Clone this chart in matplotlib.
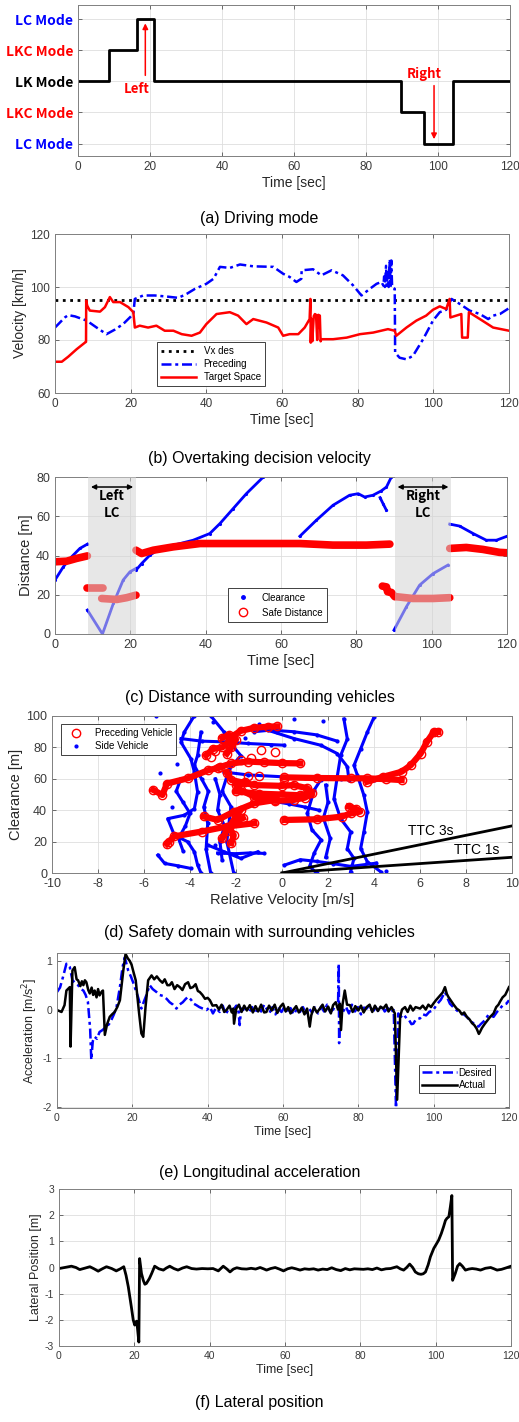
import matplotlib
matplotlib.use('Agg')
import matplotlib.pyplot as plt
from matplotlib.lines import Line2D

plt.rcParams['font.family'] = ['Liberation Sans', 'DejaVu Sans']
plt.rcParams['axes.unicode_minus'] = False

# ---------------- (a) driving mode ----------------
mode_t = [0, 8.6, 16.3, 21.1, 89.6, 96.1, 104.3, 120]
mode_v = [0, 1, 2, 0, -1, -2, 0, 0]
mode_ticks = [2, 1, 0, -1, -2]
mode_labels = ['LC Mode', 'LKC Mode', 'LK Mode', 'LKC Mode', 'LC Mode']
mode_colors = ['#0000ff', '#ff0000', '#000000', '#ff0000', '#0000ff']

# ---------------- (b) velocity ----------------
vx_des = 95
prec_t = [0, 2.6, 3.5, 5.3, 8.4, 11, 13.6, 15.8, 18, 20.7, 21.1, 23.3, 26.4, 29.5, 32.6,
          34.8, 37, 40, 41.9, 43.6, 46.2, 48.9, 52.4, 57.7, 60.3, 62, 63.8, 65.1, 65.2,
          68.2, 70.4, 73.1, 76.1, 78.8, 81, 83.2, 85, 86.3, 86.8, 87.0, 87.2, 87.5, 87.7,
          88.0, 88.2, 88.5, 88.7, 88.9, 89.1, 89.8, 89.9, 91.1, 92.9, 94.6, 97.3, 99.9,
          101.7, 103.4, 104.8, 107, 109.6, 112.3, 114.5, 115.8, 117.6, 120]
prec_v = [84.7, 88.5, 89.4, 88.9, 87.3, 84.7, 82.2, 83.9, 86, 89.8, 95.5, 96.8, 96.8, 96.4, 95.9,
          97.4, 99.3, 101.2, 103.1, 107.6, 107.2, 108.5, 107.8, 107.6, 105, 103.8, 101.9, 103.1, 106.3,
          106.7, 104.4, 106.3, 104.4, 100.6, 96.8, 99.3, 101.2, 101.9, 100.5, 104, 100, 108, 100.5,
          106, 100, 110.5, 100, 110, 100, 99.3, 75.2, 73.3, 72.7, 74, 80.3, 87.3,
          90.5, 91.4, 95.5, 93.6, 91.1, 89.8, 87.9, 89.2, 89.8, 92]
tgt_t = [0, 1.8, 3.5, 5.7, 7.9, 8.2, 8.25, 8.5, 9.2, 11.9, 13.2, 14.5, 15.4, 17.2, 19.4, 20.7,
         21.1, 22.4, 24.6, 26.8, 29, 31.3, 33.5, 36.1, 38.3, 40, 42.7, 46.2, 48.4, 50.6, 52.4,
         55.9, 59, 60.3, 62, 64.3, 66, 67.3, 67.5, 67.6, 67.8, 68.0, 68.4, 68.7, 69.0, 69.3,
         69.6, 70.0, 70.2, 70.4, 73.5, 77.1, 80.6, 84.1, 88, 89.8, 90.2, 92.9, 95.5, 98.1,
         99.9, 101.7, 103.4, 104.3, 104.5, 107.4, 107.6, 109.1, 109.4, 112.3, 115.8, 120]
tgt_v = [71.8, 71.8, 73.7, 76.5, 79, 79.3, 94.9, 93, 91.1, 90.7, 92.4, 96.2, 94.3, 94.3, 92.4, 90.5,
         84.7, 85.4, 84.7, 85.4, 83.5, 83.5, 82.2, 81.6, 82.8, 86, 89.8, 90.5, 89.2, 86, 87.9,
         86.6, 84.7, 81.6, 82.2, 82.2, 84.7, 87.9, 95.5, 79, 88, 79.5, 89, 89.8, 89.5, 80,
         89.5, 89.2, 79.5, 80.3, 80.3, 80.9, 82.2, 82.8, 84.1, 83.5, 81.6, 84.7, 87.3, 89.2,
         91.4, 92.7, 91.7, 95.5, 88.5, 89.8, 80.9, 80.9, 90.5, 87.9, 84.7, 83.5]

# ---------------- (c) distance ----------------
lc_windows = [(8.8, 21.5), (90.2, 105.2)]
lc_names = ['Left\nLC', 'Right\nLC']
clr_segments = [
    ([0, 2.2, 4.4, 6.6, 8.6], [27.5, 34.2, 39.3, 43.6, 45.8]),
    ([8.6, 12.6, 15.5, 18.1, 19.9, 21.5], [12.2, 0, 15.6, 27.5, 31.7, 33.4]),
    ([21.5, 23, 25.2, 27.9, 33.2, 36.7, 41.1, 43.8, 47.3, 50.8, 55.3],
     [32.5, 35.9, 40.2, 43.6, 46.1, 47.8, 51.2, 56.3, 63.9, 71.5, 80]),
    ([65, 69.4, 73.8, 78.2, 80.5, 82.2, 84.4, 86.6, 88, 89.3],
     [49.8, 58, 65.6, 70.7, 71.5, 69.8, 70.7, 72.9, 74.9, 80]),
    ([86.3, 87.2, 88.0], [69.5, 66, 63]),
    ([90, 93.3, 96.8, 100.4, 104.3], [2, 13.9, 24.9, 30.8, 35.1]),
    ([104.8, 107.4, 111, 114.5, 117.2, 120], [56, 55, 51.2, 47.8, 47.8, 49.8]),
]
safe_segments = [
    ([0, 3.1, 5.7, 8.6], [36.8, 37.1, 38.5, 39.8]),
    ([8.6, 12.8], [23.2, 23.2]),
    ([12.4, 16.4, 19, 21.5], [18.1, 17.6, 18.5, 19.8]),
    ([21.5, 23, 26.1, 31.4, 38.5, 47.3, 65, 73.8, 82.7, 88.9],
     [42.7, 41, 42.7, 44.4, 46.1, 46.1, 46.1, 45.3, 45.3, 45.8]),
    ([86.9, 88, 88.3, 89.3, 90.2], [24.4, 24, 21.5, 21.2, 19]),
    ([90.6, 95, 100.4, 104.8], [19, 18.1, 18.1, 18.5]),
    ([104.8, 109.2, 113.6, 118, 120], [43.6, 44.1, 43.1, 41.6, 41.4]),
]

# ---------------- (d) safety domain ----------------
ttc_values = [3, 1]
ttc_vrel = [0, 10]
prec_traj = [
    ([-3.3, -3.0, -2.6, -2.3, -2.2, -1.8, -1.2, -0.6, -0.2], [75, 79, 80, 83, 86.7, 90.5, 92.5, 93.2, 93.4]),
    ([-2.4, -2.2, -2.0, -2.3, -2.6], [76, 80, 85, 88, 86]),
    ([-2.8, -2.2, -1.5, -0.8, 0.0, 0.8], [67, 69.8, 71, 70.5, 70, 69.8]),
    ([-2.4, -2.2, -1.2, 0.0, 0.5, 1.1, 1.3, 1.0, 0.5, -0.3, -1.2, -1.8, -2.0, -1.6],
     [64, 59.2, 56, 55.5, 56, 54, 50.7, 48, 46.5, 46, 48.6, 52.9, 56, 58]),
    ([-2.0, -1.0, 0.0, 0.8, 1.2], [52, 50.5, 50, 49.5, 51]),
    ([-3.4, -2.8, -2.1, -1.2, -0.3], [36, 33.8, 39, 44.4, 46.5]),
    ([-2.2, -2.1, -2.3, -2.0, -1.7], [19, 24, 29.6, 33, 35]),
    ([-2.6, -2.4, -2.0, -1.8], [22, 27, 36, 40]),
    ([-5.6, -5.2, -5.0, -4.1, -3.2, -2.7], [52.9, 49.7, 57, 60.3, 65.5, 67.2]),
    ([-5.0, -4.9, -4.7, -3.5, -2.4, -1.2], [18.5, 20, 23.3, 26.4, 29.6, 31.7]),
    ([0.1, 1.5, 3.0, 3.7, 4.5, 5.2], [60.9, 60.5, 60.3, 60.3, 59.8, 59.2]),
    ([3.7, 4.4, 5.2, 5.6, 6.03, 6.3, 6.6, 6.8], [58.1, 61.3, 64.5, 68.7, 76.1, 83.5, 89.9, 89.9]),
    ([0.1, 1.5, 2.6, 3.0, 3.4, 3.2, 2.9], [33.8, 34.2, 35.9, 38, 39.1, 41, 42.3]),
]
prec_loose_x = [-0.9, -0.3, -1.35, -3.1, -1.0, 0.1, -2.9, -1.8, -1.5]
prec_loose_y = [78.6, 77, 73, 74, 62, 60, 78, 72, 62]
side_traj = [
    ([-3.81, -4.25, -4.39, -3.96, -3.81, -3.67, -3.81, -4.25, -4.97, -4.68, -4.1, -3.81, -3.67, -3.52],
     [100.2, 89.7, 83.3, 72.7, 64.3, 51.6, 41, 36.8, 34.6, 24.1, 19.9, 13.5, 5.1, 0]),
    ([-5.4, -5.1, -4.53, -3.96], [11.4, 6.1, 4.6, 2.9]),
    ([-3.52, -3.67, -3.81, -3.5, -3.2, -3.4, -3.23, -3.3, -3.1],
     [89.7, 74.9, 68.5, 60, 52, 42, 31.7, 15, 0]),
    ([-3.09, -2.51, -2.2, -1.79, -2.3, -2.6, -2.22, -2.4, -2.1],
     [100, 89.6, 82, 74.8, 66, 52, 42.3, 20, 0]),
    ([-4.4, -4.6, -4.3, -4.0, -4.2, -4.5, -4.3], [60, 52, 45, 38, 30, 22, 14]),
    ([-2.9, -2.7, -2.8, -2.5, -2.7, -2.6], [60, 50, 40, 30, 20, 8]),
    ([-4.39, -3.5, -2.5, -1.5, -0.5, 0.1], [85.6, 84, 83.5, 82.5, 81.8, 81.4]),
    ([-0.63, 0.53, 1.68, 2.4, 2.84, 2.91], [91, 85.6, 81.4, 76.1, 67.7, 59.2]),
    ([-2.51, -1.5, 0.0, 1.0, 2.55, 4.0], [64.3, 62.5, 61.3, 60.8, 60, 59.2]),
    ([-3.23, -2.51, -1.79, -1.06], [17.8, 13.5, 9.3, 13.5]),
    ([-2.8, -2.0, -1.4, -0.8], [12.7, 12.3, 12.8, 12.5]),
    ([4.0, 3.71, 3.42, 3.13, 3.28, 3.56, 3.71, 3.56, 3.42, 3.71, 4.29],
     [99.2, 89.7, 79.1, 68.5, 62.2, 49.5, 38.9, 26.2, 15.6, 7.2, 0.8]),
    ([2.69, 2.84, 2.55, 2.41, 2.26, 2.55, 2.98, 2.84, 3.13, 2.98],
     [98.1, 85.4, 74.9, 62.1, 47.3, 34.6, 26.2, 15.6, 9.3, 0.8]),
    ([1.68, 1.4, 1.1, 1.3, 1.7, 1.4, 1.2, 1.5], [59.2, 52.9, 38, 27.5, 21.1, 12.7, 4.2, 0]),
    ([1.9, 2.0, 1.8, 2.1, 1.9], [56, 45, 35, 22, 10]),
    ([0.1, 0.8, 1.5, 2.2, 3.0, 4.1], [5, 8.5, 7.4, 6, 4.2, 6.3]),
    ([-0.5, 0.3, 1.0, 1.6], [46, 44, 42, 40]),
    ([-1.2, -0.5, 0.5, 1.5, 2.4], [90, 91, 90, 88, 84]),
]
side_loose_x = [-5.5, -4.56, -1.0, 0.5, -2.9, 1.8, -0.2, 4.5, -5.3, -4.8, -3.0, -1.6]
side_loose_y = [100, 69.5, 95, 98, 18, 97, 90, 1, 64, 42, 96, 86]

# ---------------- (e) longitudinal acceleration ----------------
act_t = [0, 1.2, 2, 2.5, 3.4, 3.6, 4.1, 4.7, 5.2, 5.6, 6.2, 6.6, 7, 7.4, 7.8, 8.3, 8.7, 9.2, 9.6,
         10, 10.5, 10.9, 11.3, 11.8, 12.2, 12.7, 13.3, 14, 14.6, 15.3, 16, 16.7, 17.6, 18.2,
         18.8, 19.3, 19.8, 20.2, 20.9, 21.8, 22.4, 22.9, 23.5, 24.2, 25.1, 25.8, 26.5, 27.3,
         28, 28.6, 29.3, 29.9, 30.5, 31.2, 31.9, 32.6, 33.3, 34, 34.8, 35.4, 36.1, 36.8, 37.4,
         37.9, 38.6, 39.3, 40, 40.6, 41.3, 42.3, 43, 43.7, 44.4, 45, 45.8, 46.4, 46.8, 47,
         47.6, 48.3, 49, 49.7, 50.4, 51.2, 52, 52.7, 53.4, 54.2, 55, 55.6, 56.3, 57, 57.8,
         58.5, 59.3, 60, 60.7, 61.4, 62, 62.7, 63.5, 64.2, 65, 65.7, 66.4, 67.1, 67.5, 68.2,
         69, 69.8, 70.5, 71.2, 72, 72.7, 73.3, 74, 74.6, 75.1, 75.4, 75.8, 76.4, 77, 77.8,
         78.5, 79.2, 80, 80.7, 81.4, 82.2, 83, 83.7, 84.4, 85.2, 85.9, 86.6, 87.4, 88, 88.8,
         89.7, 90.3, 91.1, 91.6, 92.4, 93.1, 93.8, 94.5, 95.2, 96.4, 97.1, 97.9, 98.6, 99.3,
         99.9, 100.7, 101.7, 102.4, 103, 103.5, 103.9, 104.6, 105.3, 106.1, 106.8, 107.5,
         108.1, 108.8, 109.5, 110.2, 110.8, 111.4, 112, 112.3, 112.8, 113.6, 114.3, 115,
         115.9, 116.6, 117.2, 117.6, 118.3, 119, 119.5, 120]
act_a = [-0.01, -0.05, 0.09, 0.39, 0.46, -0.76, 0.8, 0.87, 0.62, 0.6, 0.48, 0.58, 0.5, 0.6, 0.56,
         0.4, 0.33, 0.45, 0.3, 0.39, 0.25, 0.42, 0.29, 0.36, 0.39, -0.52, -0.3, -0.15, -0.1,
         -0.05, 0.05, 0.19, 0.8, 1.14, 1.05, 1.0, 0.92, 0.8, 0.6, -0.08, -0.49, -0.56, 0.05,
         0.6, 0.7, 0.62, 0.68, 0.6, 0.55, 0.62, 0.5, 0.5, 0.56, 0.42, 0.5, 0.46, 0.4, 0.52,
         0.56, 0.44, 0.46, 0.52, 0.38, 0.36, 0.3, 0.22, 0.24, 0.19, 0.08, 0.09, 0.0, 0.1,
         -0.05, -0.01, 0.08, -0.06, 0.02, -0.29, 0.02, 0.1, -0.05, 0.08, -0.02, 0.09, -0.06,
         0.07, -0.04, 0.1, -0.06, -0.05, 0.08, -0.02, 0.1, -0.07, 0.06, 0.12, -0.04, 0.05,
         -0.08, -0.01, 0.07, -0.06, 0.04, -0.1, 0.02, -0.35, -0.12, 0.05, -0.06, 0.02, 0.1,
         -0.04, 0.06, -0.08, 0.09, 0.15, 0.0, 0.12, -0.42, 0.1, 0.39, 0.1, 0.09, -0.05, 0.07,
         -0.02, 0.08, -0.06, 0.05, 0.1, -0.05, 0.08, -0.03, 0.06, 0.02, 0.1, -0.04, 0.05,
         -0.08, -1.85, -0.15, 0.0, 0.05, -0.05, 0.08, -0.02, 0.05, 0.02, 0.08, 0.0, 0.1, 0.05,
         0.12, 0.2, 0.29, 0.35, 0.46, 0.32, 0.26, 0.18, 0.1, 0.02, -0.02, -0.1, -0.06, -0.15,
         -0.2, -0.28, -0.32, -0.39, -0.5, -0.46, -0.38, -0.29, -0.22, -0.15, -0.08, 0.05, 0.1,
         0.16, 0.25, 0.3, 0.38, 0.46]
des_t = [0, 0.8, 1.6, 2.5, 3.4, 4.1, 4.8, 5.6, 6.3, 7, 7.6, 8.2, 8.8, 9.1, 9.5, 10, 10.6, 11.3,
         12.1, 13.1, 13.8, 14.4, 15.1, 15.8, 16.7, 17.4, 18, 18.9, 19.6, 20.2, 20.9, 21.5,
         22.4, 23, 23.7, 24.6, 25.4, 26.4, 27.2, 28.1, 29.1, 29.9, 30.8, 31.7, 32.5, 33.4,
         34.2, 34.8, 35.6, 36.3, 37, 37.8, 38.7, 39.7, 40.6, 41.4, 42.2, 43.2, 44, 44.8, 45.6,
         46.8, 47.6, 48.2, 48.5, 48.9, 49.4, 50.2, 51, 51.8, 52.6, 53.4, 54.2, 55, 55.6, 56.4,
         57.2, 58, 58.8, 59.6, 60.4, 61.2, 62, 62.8, 63.6, 64.5, 65.3, 66.1, 66.9, 67.7, 68.5,
         69.3, 70.1, 70.9, 71.7, 72.5, 73.3, 74, 74.6, 74.8, 74.9, 75.1, 75.9, 76.7, 77.5,
         78.3, 79.1, 79.9, 80.7, 81.5, 82.2, 83, 83.8, 84.6, 85.4, 86.2, 87, 87.8, 88.6, 89.4,
         90, 90.6, 91.3, 92, 92.8, 93.5, 94.1, 94.6, 95.3, 96.4, 97.2, 98, 98.8, 99.9, 100.8,
         101.9, 103, 103.6, 104.3, 105.2, 106.2, 107.2, 108, 108.8, 109.6, 110.5, 111.2,
         111.9, 112.5, 113.6, 114.6, 115.9, 116.8, 117.6, 118.5, 119.3, 120]
des_a = [0.36, 0.45, 0.67, 0.94, 0.87, 0.6, 0.55, 0.5, 0.42, 0.39, 0.3, 0.16, -0.4, -1.03, -0.65,
         -0.56, -0.6, -0.46, -0.42, -0.35, -0.3, -0.22, -0.1, 0.05, 0.46, 0.87, 1.07, 0.8, 0.68,
         0.56, 0.4, 0.26, 0.02, 0.15, 0.29, 0.5, 0.42, 0.36, 0.3, 0.28, 0.22, 0.15, 0.1, 0.02,
         0.1, 0.15, 0.22, 0.26, 0.2, 0.12, 0.09, 0.05, 0.02, -0.01, 0.05, -0.08, 0.03, -0.05,
         0.08, -0.1, 0.02, -0.01, 0.08, -0.05, -0.32, 0.02, -0.01, 0.08, -0.06, 0.05, -0.08,
         0.04, -0.04, 0.1, 0.02, -0.07, 0.05, -0.1, 0.02, -0.05, 0.06, -0.08, 0.03, -0.1, 0.0,
         -0.05, 0.05, -0.09, 0.02, -0.06, 0.04, -0.08, 0.06, -0.04, 0.1, -0.05, 0, 0.08, 0.05,
         0.94, -0.69, 0.02, -0.05, 0.06, -0.08, 0.1, -0.04, 0.05, -0.1, 0.04, 0.02, 0.1, -0.06,
         0.05, -0.05, 0.08, -0.04, 0.03, -0.05, -0.01, -2.02, -0.08, -0.15, -0.1, -0.18, -0.22,
         -0.3, -0.29, -0.2, -0.18, -0.1, -0.12, -0.05, -0.01, 0.1, 0.2, 0.36, 0.25, 0.12, 0.05,
         -0.02, -0.08, -0.1, -0.15, -0.22, -0.28, -0.32, -0.35, -0.3, -0.22, -0.1, -0.15, -0.05,
         0.02, 0.1, 0.12, 0.19]

# ---------------- (f) lateral position ----------------
lat_t = [0, 1.5, 3.3, 4.5, 5.5, 7, 8.2, 9.3, 10.4, 11.5, 12.6, 14, 15.2, 16.3, 17.2, 17.8, 18.4,
         19.2, 19.7, 20.1, 20.4, 20.6, 20.8, 21.2, 21.4, 21.9, 22.4, 22.8, 23.2, 24, 24.6,
         25.4, 26.5, 27.7, 28.5, 29.4, 30.5, 31.6, 32.8, 33.9, 35.2, 36.5, 38, 39.5, 40.9,
         42.3, 43.6, 44.5, 45.4, 46.3, 47.2, 48.5, 49.8, 51, 52.2, 53.4, 54.3, 55.1, 56.2,
         57.4, 58.5, 59.6, 60.7, 61.8, 62.9, 64, 65.2, 66.4, 67.6, 68.8, 70, 71.2, 72.4, 73.6,
         74.8, 76, 77.2, 78.4, 79.6, 80.8, 82, 83.2, 84.4, 85.6, 86.8, 88, 89.7, 90.6, 91.5,
         92.3, 93.1, 93.9, 94.6, 95.4, 96.1, 96.7, 97.3, 98, 98.6, 99.5, 100.2, 100.8, 101.5,
         102.1, 102.6, 103, 103.5, 103.9, 104.3, 104.5, 105.2, 105.8, 106.4, 107.1, 107.9,
         108.8, 109.7, 110.8, 111.9, 113.2, 114.6, 115.5, 116.3, 117.5, 118.8, 120]
lat_y = [-0.04, 0.0, 0.05, 0.0, -0.08, -0.02, 0.03, -0.05, -0.14, -0.05, 0.03, -0.04, -0.13, -0.05,
         0.03, -0.3, -0.74, -1.5, -2.0, -2.2, -2.08, -2.05, -2.27, -2.85, 0.34, -0.23, -0.5,
         -0.64, -0.61, -0.42, -0.23, 0.05, -0.05, -0.1, -0.02, 0.05, -0.04, -0.1, -0.02, 0.03,
         -0.04, -0.06, -0.04, -0.05, -0.04, -0.13, 0.05, -0.05, -0.17, -0.06, -0.01, -0.05,
         -0.06, -0.03, -0.06, 0.0, -0.05, -0.1, -0.04, 0.0, -0.06, -0.13, -0.05, -0.01, -0.05,
         -0.1, -0.05, -0.07, -0.05, -0.1, -0.06, -0.08, -0.01, -0.08, -0.12, -0.04, -0.09,
         -0.05, -0.06, -0.07, -0.05, -0.08, -0.02, -0.09, -0.05, -0.04, 0.03, -0.05, -0.1, 0.0,
         0.13, 0.0, -0.17, -0.24, -0.26, -0.24, -0.17, 0.1, 0.41, 0.73, 0.9, 1.05, 1.3, 1.56,
         1.8, 1.88, 1.94, 2.32, 2.75, -0.49, -0.23, 0.05, 0.15, 0.05, -0.1, -0.06, -0.04, -0.06,
         -0.1, -0.03, 0.0, -0.05, -0.1, -0.07, -0.01, 0.05]

captions = ['(a) Driving mode', '(b) Overtaking decision velocity',
            '(c) Distance with surrounding vehicles', '(d) Safety domain with surrounding vehicles',
            '(e) Longitudinal acceleration', '(f) Lateral position']
caption_y = [218, 459, 697, 932, 1173, 1402]

W, H = 519, 1422
fig = plt.figure(figsize=(W / 100, H / 100), dpi=100)


def px_axes(left, top, right, bottom):
    return fig.add_axes([left / W, 1 - bottom / H, (right - left) / W, (bottom - top) / H])


def matlab_style(ax, tick_fs):
    ax.grid(True, color='#dedede', lw=0.6)
    ax.set_axisbelow(True)
    ax.tick_params(direction='in', top=True, right=True, length=3, width=0.6,
                   color='#555555', labelsize=tick_fs, labelcolor='#3a3a3a')
    for s in ax.spines.values():
        s.set_color('#808080')
        s.set_linewidth(0.7)


lab_kw = dict(color='#262626')
cjk = ['Noto Sans CJK KR', 'DejaVu Sans']
dashdot = (4, 1.5, 1.2, 1.5)

# (a)
ax = px_axes(78, 5, 510, 156)
ax.step(mode_t, mode_v, where='post', color='black', lw=2)
ax.set_xlim(0, 120)
ax.set_ylim(-2.4, 2.45)
ax.set_xticks(range(0, 121, 20))
ax.set_yticks(mode_ticks)
ax.set_yticklabels(mode_labels)
matlab_style(ax, 8.5)
for lbl, c in zip(ax.get_yticklabels(), mode_colors):
    lbl.set_color(c)
    lbl.set_fontweight('bold')
    lbl.set_fontsize(10)
    lbl.set_family(cjk)
ax.set_xlabel('Time [sec]', fontsize=10, labelpad=2, **lab_kw)
ax.annotate('', xy=(18.7, 1.95), xytext=(18.7, 0.1),
            arrowprops=dict(arrowstyle='-|>', color='red', lw=1.1, mutation_scale=8))
ax.text(16.4, -0.25, 'Left', color='red', fontsize=9.5, fontweight='bold',
        ha='center', va='center', family=cjk)
ax.annotate('', xy=(98.9, -1.95), xytext=(98.9, -0.05),
            arrowprops=dict(arrowstyle='-|>', color='red', lw=1.1, mutation_scale=8))
ax.text(96.2, 0.22, 'Right', color='red', fontsize=9.5, fontweight='bold',
        ha='center', va='center', family=cjk)

# (b)
ax = px_axes(55, 234, 509, 393)
ax.axhline(vx_des, color='black', ls=':', lw=2, label='Vx des')
ax.plot(prec_t, prec_v, color='#0000ff', ls='-.', dashes=dashdot, lw=1.8, label='Preceding')
ax.plot(tgt_t, tgt_v, color='#ff0000', ls='-', lw=1.8, label='Target Space')
ax.set_xlim(0, 120)
ax.set_ylim(60, 120)
ax.set_xticks(range(0, 121, 20))
ax.set_yticks([60, 80, 100, 120])
matlab_style(ax, 8.5)
ax.set_xlabel('Time [sec]', fontsize=10, labelpad=2, **lab_kw)
ax.set_ylabel('Velocity [km/h]', fontsize=10, labelpad=2, **lab_kw)
leg = ax.legend(loc='lower left', bbox_to_anchor=(0.214, 0.013), fontsize=7, fancybox=False,
                framealpha=1, edgecolor='#404040', handlelength=3.6, borderpad=0.4,
                labelspacing=0.3)
leg.get_frame().set_linewidth(0.7)

# (c)
ax = px_axes(55, 477, 507, 634)
for sx, sy in clr_segments:
    ax.plot(sx, sy, color='#0000ff', lw=2, marker='.', ms=2.5, zorder=2)
for sx, sy in safe_segments:
    ax.plot(sx, sy, color='#ff0000', lw=5.5, solid_capstyle='round', zorder=2)
for (x0, x1), name in zip(lc_windows, lc_names):
    ax.axvspan(x0, x1, color='#d4d4d4', alpha=0.55, lw=0, zorder=3)
    ax.annotate('', xy=(x0, 74.9), xytext=(x1, 74.9),
                arrowprops=dict(arrowstyle='<|-|>', color='black', lw=1.1, mutation_scale=7),
                zorder=4)
    ax.text((x0 + x1) / 2, 66, name, ha='center', va='center', fontsize=9.5, fontweight='bold',
            linespacing=1.3, family=cjk, zorder=4)
ax.set_xlim(0, 120)
ax.set_ylim(0, 80)
ax.set_xticks(range(0, 121, 20))
ax.set_yticks(range(0, 81, 20))
matlab_style(ax, 9)
ax.set_xlabel('Time [sec]', fontsize=10.5, labelpad=2, **lab_kw)
ax.set_ylabel('Distance [m]', fontsize=10.5, labelpad=2, **lab_kw)
hnd = [Line2D([], [], ls='none', marker='.', ms=5, color='#0000ff'),
       Line2D([], [], ls='none', marker='o', ms=6, mfc='none', mec='#ff0000', mew=1)]
leg = ax.legend(hnd, ['Clearance', 'Safe Distance'], loc='lower left',
                bbox_to_anchor=(0.371, 0.043), fontsize=7, fancybox=False, framealpha=1,
                edgecolor='#404040', handlelength=2.2, borderpad=0.5, labelspacing=0.5)
leg.get_frame().set_linewidth(0.7)
leg.set_zorder(5)

# (d)
ax = px_axes(52, 716, 512, 873)
for sx, sy in side_traj:
    ax.plot(sx, sy, color='#0000ff', lw=2.2, marker='.', ms=4, zorder=2)
ax.plot(side_loose_x, side_loose_y, ls='none', color='#0000ff', marker='.', ms=4, zorder=2)
for sx, sy in prec_traj:
    ax.plot(sx, sy, color='#ff0000', lw=4.5, marker='o', ms=6, mfc='none', mec='#ff0000',
            mew=1, zorder=3)
ax.plot(prec_loose_x, prec_loose_y, ls='none', marker='o', ms=6, mfc='none', mec='#ff0000',
        mew=1, zorder=3)
for ttc in ttc_values:
    ax.plot(ttc_vrel, [ttc * v for v in ttc_vrel], color='black', lw=2, zorder=4)
ax.text(5.5, 26.5, 'TTC 3s', fontsize=10, va='center', ha='left', zorder=5)
ax.text(7.5, 14.8, 'TTC 1s', fontsize=10, va='center', ha='left', zorder=5)
ax.set_xlim(-10, 10)
ax.set_ylim(0, 100)
ax.set_xticks(range(-10, 11, 2))
ax.set_yticks(range(0, 101, 20))
matlab_style(ax, 9)
ax.set_xlabel('Relative Velocity [m/s]', fontsize=10.5, labelpad=2, **lab_kw)
ax.set_ylabel('Clearance [m]', fontsize=10.5, labelpad=2, **lab_kw)
hnd = [Line2D([], [], ls='none', marker='o', ms=6, mfc='none', mec='#ff0000', mew=1),
       Line2D([], [], ls='none', marker='.', ms=4, color='#0000ff')]
leg = ax.legend(hnd, ['Preceding Vehicle', 'Side Vehicle'], loc='upper left',
                bbox_to_anchor=(0.01, 0.979), fontsize=7, fancybox=False, framealpha=1,
                edgecolor='#404040', handlelength=2.2, borderpad=0.4, labelspacing=0.3)
leg.get_frame().set_linewidth(0.7)
leg.set_zorder(6)

# (e)
ax = px_axes(57, 953, 509, 1108)
ax.plot(des_t, des_a, color='#0000ff', ls='-.', dashes=dashdot, lw=1.8, label='Desired')
ax.plot(act_t, act_a, color='black', lw=1.8, label='Actual')
ax.set_xlim(0, 120)
ax.set_ylim(-2.02, 1.16)
ax.set_xticks(range(0, 121, 20))
ax.set_yticks([-2, -1, 0, 1])
matlab_style(ax, 7.5)
ax.set_xlabel('Time [sec]', fontsize=9, labelpad=2, **lab_kw)
ax.set_ylabel('Acceleration [m/s$^2$]', fontsize=9, labelpad=2, **lab_kw)
leg = ax.legend(loc='lower right', bbox_to_anchor=(0.98, 0.063), fontsize=7, fancybox=False,
                framealpha=1, edgecolor='#404040', handlelength=3.6, borderpad=0.3,
                labelspacing=0.3, handletextpad=0.2)
leg.get_frame().set_linewidth(0.7)

# (f)
ax = px_axes(59, 1189, 511, 1346)
ax.plot(lat_t, lat_y, color='black', lw=2)
ax.set_xlim(0, 120)
ax.set_ylim(-3, 3)
ax.set_xticks(range(0, 121, 20))
ax.set_yticks(range(-3, 4))
matlab_style(ax, 7.5)
ax.set_xlabel('Time [sec]', fontsize=9, labelpad=2, **lab_kw)
ax.set_ylabel('Lateral Position [m]', fontsize=9, labelpad=2, **lab_kw)

for cap, yy in zip(captions, caption_y):
    fig.text(0.5, 1 - yy / H, cap, ha='center', va='center', fontsize=11.5, color='black')

fig.savefig('out.png', dpi=100)
